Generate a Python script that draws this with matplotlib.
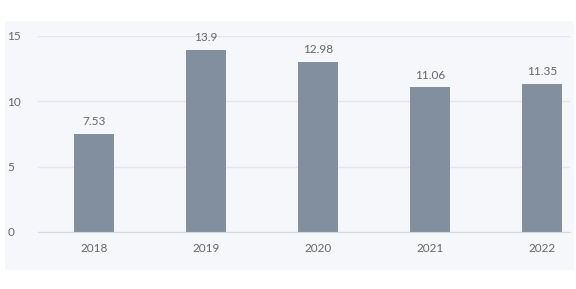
import matplotlib
matplotlib.use("Agg")
import matplotlib.pyplot as plt
from matplotlib.patches import Rectangle

years = ["2018", "2019", "2020", "2021", "2022"]
values = [7.53, 13.9, 12.98, 11.06, 11.35]
labels = ["7.53", "13.9", "12.98", "11.06", "11.35"]
yticks = [0, 5, 10, 15]

plt.rcParams['font.family'] = ['Lato', 'DejaVu Sans']

fig = plt.figure(figsize=(5.76, 2.89), dpi=100)
fig.patch.set_facecolor('white')
# panel background
fig.patches.append(Rectangle((5/576, 1-270/289), 569/576, 249/289,
                             transform=fig.transFigure, facecolor='#f5f7fb',
                             edgecolor='none', zorder=-10))

ax = fig.add_axes([38/576, 57/289, 532/576, 196/289])
ax.set_facecolor('none')
x = list(range(len(years)))
ax.bar(x, values, width=0.35, color='#828f9f', zorder=3)
for xi, v, lab in zip(x, values, labels):
    ax.annotate(lab, (xi, v), xytext=(0, 5), textcoords='offset points',
                ha='center', va='bottom', fontsize=8.5, color='#666666')

ax.set_xlim(-0.5, 4.25)
ax.set_ylim(0, 15)
ax.set_yticks(yticks)
ax.set_xticks(x)
ax.set_xticklabels(years)
ax.yaxis.grid(True, color='#e3e6ec', linewidth=1, zorder=0)
ax.tick_params(axis='both', length=0, labelsize=8.5, labelcolor='#666666')
ax.tick_params(axis='x', pad=8)
ax.tick_params(axis='y', pad=22)
for s in ['top', 'right', 'left']:
    ax.spines[s].set_visible(False)
ax.spines['bottom'].set_color('#d5dbe5')
ax.spines['bottom'].set_zorder(4)
for lbl in ax.get_yticklabels():
    lbl.set_horizontalalignment('left')

fig.savefig('out.png', dpi=100)
